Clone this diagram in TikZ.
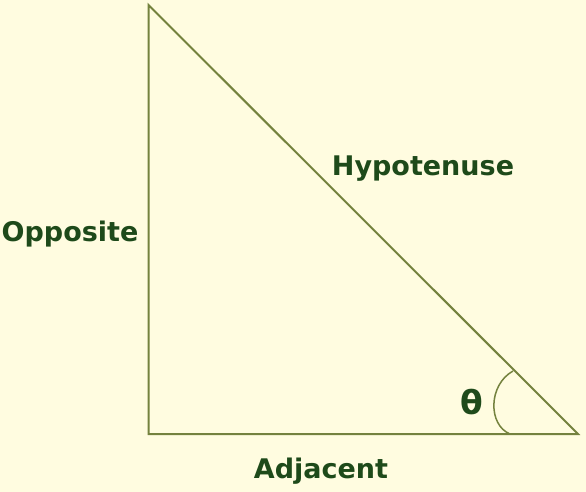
\documentclass[tikz,border=0pt]{standalone}
\usepackage{fontspec}
\setmainfont{DejaVu Sans}
\definecolor{paper}{HTML}{FFFCE0}
\definecolor{edge}{HTML}{74823E}
\definecolor{ink}{HTML}{1E4A1A}
\tikzset{
  side/.style={draw=edge,line width=2pt},
  lbl/.style={text=ink,font=\fontsize{27}{31}\selectfont\bfseries,anchor=base,inner sep=0pt},
}
\begin{document}
\begin{tikzpicture}[x=1pt,y=-1pt]
\fill[paper] (0,0) rectangle (586,492);
\useasboundingbox (0,0) rectangle (586,492);
\coordinate (top) at (148.5,5);
\coordinate (right) at (578,434);
\coordinate (corner) at (148.5,434);
\draw[side,line join=miter] (top) -- (corner) -- (right) -- cycle;
\coordinate (arcA) at (510,434);
\coordinate (arcB) at (513,371);
\draw[side,line width=1.5pt] (arcA) .. controls (488,425) and (488,385) .. (arcB);
\node[lbl] (opp) at (70,241) {Opposite};
\node[lbl] (hyp) at (423,175) {Hypotenuse};
\node[lbl] (adj) at (321,478) {Adjacent};
\node[lbl,font=\fontsize{33}{37}\selectfont\bfseries] (theta) at (472,414) {θ};
\end{tikzpicture}
\end{document}
